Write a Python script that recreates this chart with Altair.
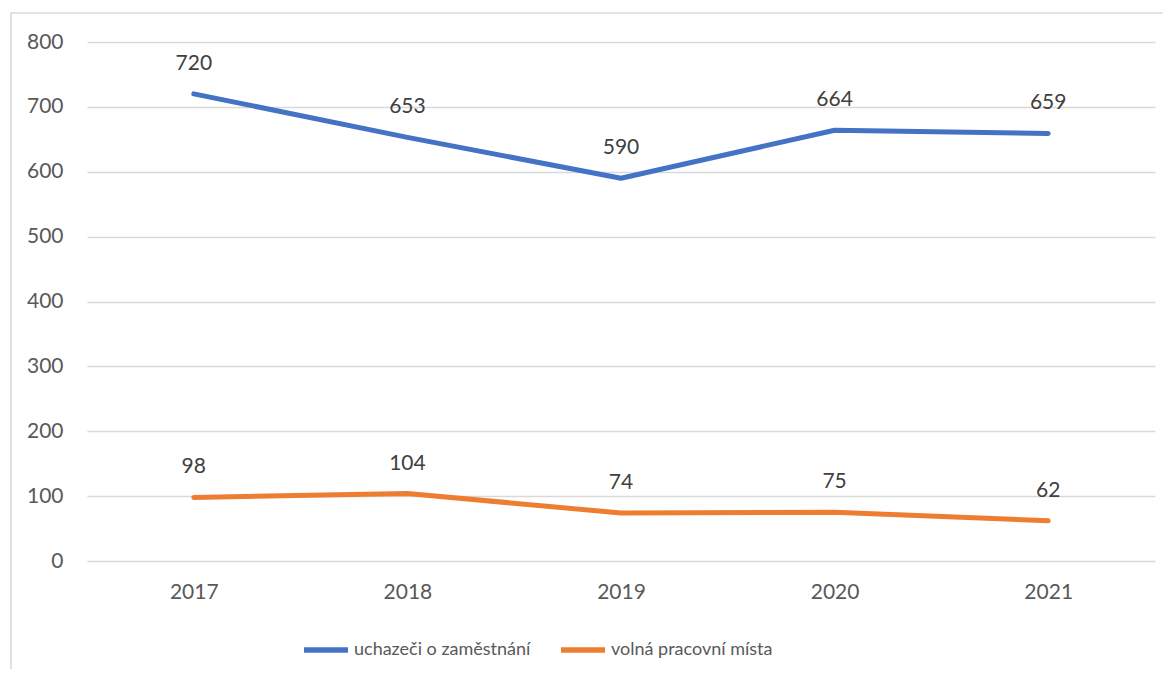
import altair as alt
import pandas as pd

years = ["2017", "2018", "2019", "2020", "2021"]
series_names = ["uchazeči o zaměstnání", "volná pracovní místa"]
uchazeci = [720, 653, 590, 664, 659]
volna_mista = [98, 104, 74, 75, 62]
colors = ["#4472C4", "#ED7D31"]

rows = []
for y, v in zip(years, uchazeci):
    rows.append({"rok": y, "serie": series_names[0], "hodnota": v})
for y, v in zip(years, volna_mista):
    rows.append({"rok": y, "serie": series_names[1], "hodnota": v})
df = pd.DataFrame(rows)

FONT = "Lato"

x_enc = alt.X("rok:O", sort=years, title=None,
              scale=alt.Scale(type="point", padding=0.5),
              axis=alt.Axis(labelAngle=0, ticks=False, domain=False, grid=False,
                            labelFontSize=21, labelColor="#595959", labelFont=FONT,
                            labelPadding=20))
y_enc = alt.Y("hodnota:Q", title=None,
              scale=alt.Scale(domain=[0, 800], nice=False),
              axis=alt.Axis(values=list(range(0, 801, 100)), ticks=False, domain=False,
                            grid=True, gridColor="#d9d9d9", gridWidth=1.3,
                            labelFontSize=21, labelColor="#595959", labelFont=FONT,
                            labelPadding=24))
color_enc = alt.Color("serie:N", sort=series_names, title=None,
                      scale=alt.Scale(domain=series_names, range=colors),
                      legend=alt.Legend(orient="none", legendX=214, legendY=583,
                                        direction="horizontal", symbolType="stroke",
                                        symbolSize=1936, symbolStrokeWidth=5.5,
                                        labelFontSize=18, labelColor="#595959",
                                        labelFont=FONT, labelOffset=3, labelLimit=0,
                                        columnPadding=19))

lines = alt.Chart(df).mark_line(strokeWidth=5, strokeCap="round", strokeJoin="round").encode(
    x=x_enc, y=y_enc, color=color_enc
)

labels = alt.Chart(df).mark_text(dy=-30, fontSize=21, font=FONT, color="#404040").encode(
    x=alt.X("rok:O", sort=years), y="hodnota:Q", text="hodnota:Q"
)

border = alt.Chart(pd.DataFrame({"a": [0]})).mark_rect(
    filled=False, stroke="#d9d9d9", strokeWidth=1.5
).encode(
    x=alt.value(-76), x2=alt.value(1120), y=alt.value(-29), y2=alt.value(700)
)

chart = alt.layer(border, lines, labels).properties(
    width=1068, height=519,
    autosize=alt.AutoSizeParams(type="none"),
    padding={"left": 79, "top": 34, "right": 8, "bottom": 108},
    background="white"
).configure_view(stroke=None)

chart.save("out.html", embed_options={"renderer": "svg", "actions": False})
